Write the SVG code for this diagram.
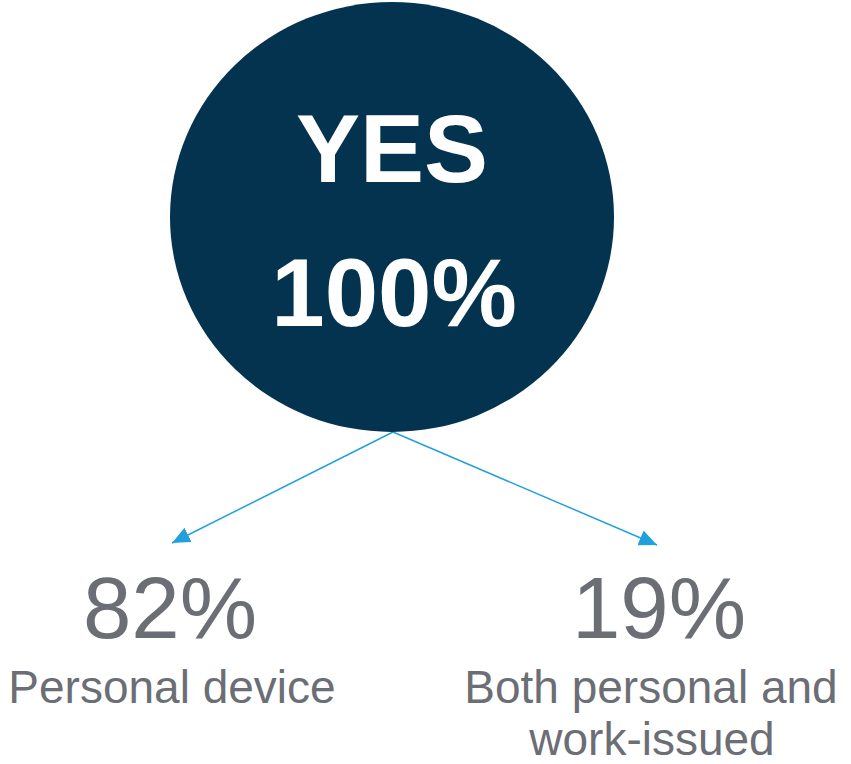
<svg xmlns="http://www.w3.org/2000/svg" width="851" height="764" viewBox="0 0 851 764">
  <defs>
    <marker id="arrow" markerUnits="userSpaceOnUse" markerWidth="18" markerHeight="16" refX="18" refY="8" orient="auto">
      <path d="M0,0 L18,8 L0,16 z" fill="#22a0dc"/>
    </marker>
    <style>
      .hub { fill: #04334f; }
      .hub-text { font-family: "Liberation Sans", Arial, sans-serif; font-weight: bold; font-size: 96px; fill: #ffffff; text-anchor: middle; }
      .pct { font-family: "Liberation Sans", Arial, sans-serif; font-size: 87px; fill: #6b6e74; text-anchor: middle; }
      .label { font-family: "Liberation Sans", Arial, sans-serif; font-size: 46px; fill: #6b6e74; text-anchor: middle; }
      .link { stroke: #22a0dc; stroke-width: 1.5; fill: none; marker-end: url(#arrow); }
    </style>
  </defs>
  <rect width="851" height="764" fill="#ffffff"/>

  <g id="connectors">
    <line class="link" x1="393" y1="432" x2="172" y2="543"/>
    <line class="link" x1="393" y1="432" x2="657" y2="545"/>
  </g>

  <g id="yes">
    <ellipse class="hub" cx="392" cy="217" rx="222" ry="215"/>
    <text class="hub-text" x="392" y="182">YES</text>
    <text class="hub-text" x="394" y="326">100%</text>
  </g>

  <g id="personal">
    <text class="pct" x="170" y="638">82%</text>
    <text class="label" x="172" y="703">Personal device</text>
  </g>

  <g id="both">
    <text class="pct" x="659" y="638">19%</text>
    <text class="label" x="651" y="703">Both personal and</text>
    <text class="label" x="652" y="755">work-issued</text>
  </g>
</svg>
